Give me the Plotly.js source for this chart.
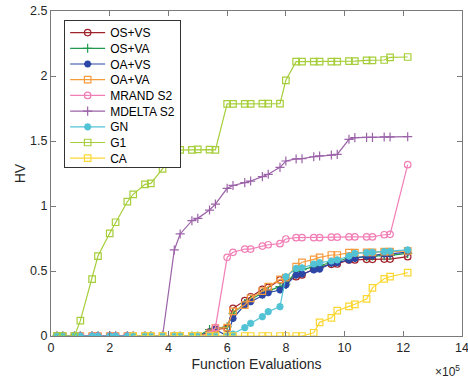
<!DOCTYPE html>
<html>
<head>
<meta charset="utf-8">
<script src="https://cdn.plot.ly/plotly-3.0.1.min.js"></script>
<style>html,body{margin:0;padding:0;background:#fff;}#chart{width:468px;height:385px;}</style>
</head>
<body>
<div id="chart"></div>
<script>
// Function evaluations (x 1e5)
var X = [0.2,0.4,0.8,1.0,1.4,1.6,2.0,2.2,2.6,2.8,3.2,3.4,3.8,4.2,4.4,4.8,5.0,5.4,5.6,6.0,6.2,6.6,6.8,7.2,7.4,7.8,8.0,8.35,8.55,8.95,9.15,9.55,9.75,10.15,10.35,10.75,10.95,11.35,11.55,12.15];
var CA_X = [2.8,3.2,3.4,3.8,4.2,4.4,4.8,5.0,5.4,5.6,6.0,6.2,6.6,6.8,7.2,7.4,7.8,8.0,8.35,8.55,8.95,9.15,9.55,9.75,10.15,10.35,10.75,10.95,11.35,11.55,12.15];

var names = ["OS+VS","OS+VA","OA+VS","OA+VA","MRAND S2","MDELTA S2","GN","G1","CA"];

var OS_VS = [0,0,0,0,0,0,0,0,0,0,0,0,0,0,0,0,0,0.03,0.05,0.06,0.213,0.272,0.302,0.359,0.374,0.431,0.425,0.456,0.47,0.515,0.53,0.551,0.554,0.585,0.585,0.59,0.59,0.592,0.592,0.61];
var OS_VA = [0,0,0,0,0,0,0,0,0,0,0,0,0,0,0,0,0,0.05,0.06,0.07,0.175,0.25,0.28,0.33,0.345,0.38,0.40,0.495,0.51,0.53,0.54,0.565,0.575,0.60,0.605,0.61,0.615,0.618,0.62,0.635];
var OA_VS = [0,0,0,0,0,0,0,0,0,0,0,0,0,0,0,0,0,0.03,0.05,0.0,0.136,0.24,0.264,0.315,0.333,0.354,0.392,0.469,0.477,0.508,0.515,0.56,0.565,0.585,0.597,0.615,0.618,0.631,0.631,0.645];
var OA_VA = [0,0,0,0,0,0,0,0,0,0,0,0,0,0,0,0,0,0.02,0.06,0.065,0.19,0.238,0.29,0.345,0.38,0.436,0.45,0.533,0.567,0.59,0.605,0.623,0.623,0.641,0.641,0.644,0.644,0.649,0.649,0.655];
var MRAND = [0,0,0,0,0,0,0,0,0,0,0,0,0,0,0,0,0,0.01,0.064,0.605,0.644,0.669,0.669,0.692,0.702,0.71,0.746,0.756,0.756,0.756,0.756,0.76,0.76,0.762,0.762,0.762,0.762,0.779,0.782,1.318];
var MDELTA = [0,0,0,0,0,0,0,0,0,0,0,0,0,0.662,0.785,0.887,0.905,0.969,1.015,1.136,1.158,1.18,1.192,1.226,1.244,1.297,1.346,1.362,1.364,1.379,1.385,1.392,1.397,1.513,1.526,1.528,1.528,1.531,1.531,1.533];
var GN = [0,0,0,0,0,0,0,0,0,0,0,0,0,0,0,0,0,0,0,0,0.015,0.065,0.097,0.149,0.187,0.226,0.456,0.52,0.525,0.554,0.564,0.577,0.585,0.615,0.636,0.641,0.644,0.649,0.652,0.662];
var G1 = [0,0,0,0.118,0.438,0.615,0.79,0.875,1.033,1.09,1.167,1.174,1.285,1.43,1.431,1.431,1.436,1.433,1.431,1.785,1.785,1.785,1.785,1.787,1.787,1.787,1.967,2.11,2.11,2.11,2.11,2.11,2.11,2.115,2.115,2.12,2.12,2.123,2.144,2.146];
var CA = [0,0,0,0,0,0,0,0,0,0,0,0,0,0,0,0,0,0,0,0,0.025,0.105,0.14,0.195,0.228,0.244,0.285,0.37,0.44,0.456,0.487];

var xTicks = [0,2,4,6,8,10,12,14];
var yTicks = [0,0.5,1,1.5,2,2.5];
var yTickText = ["0","0.5","1","1.5","2","2.5"];

var colors = ["#A0222A","#1F9A4E","#2A46A6","#F79A3C","#F27EB6","#9B62A8","#52C3D5","#A6CE3A","#FCD733"];
var symbols = ["circle-open","cross-thin-open","asterisk-open","square-open","circle-open","cross-thin-open","asterisk-open","square-open","square-open"];
var ys = [OS_VS, OS_VA, OA_VS, OA_VA, MRAND, MDELTA, GN, G1, CA];
var xs = [X, X, X, X, X, X, X, X, CA_X];

var traces = ys.map(function(y, i){
  var ast = symbols[i].indexOf("asterisk")>=0;
  return {
    x: xs[i], y: y, name: names[i], type: "scatter", mode: "lines+markers",
    line: {color: colors[i], width: 1.2},
    marker: {symbol: symbols[i], size: ast ? 6 : 6.5, color: colors[i],
             line: {color: colors[i], width: ast ? 2.2 : 1.2}}
  };
});

var FONT = "Liberation Sans, Arial, sans-serif";
var axisCommon = {
  showline: true, linecolor: "#7a7a7a", linewidth: 1, mirror: "ticks",
  ticks: "inside", ticklen: 5, tickcolor: "#7a7a7a", tickwidth: 1,
  showgrid: false, zeroline: false, ticklabeloverflow: "allow",
  tickfont: {family: FONT, size: 12.5, color: "#262626"}
};

var layout = {
  width: 468, height: 385,
  margin: {l: 51, r: 6, t: 11, b: 49},
  paper_bgcolor: "#fff", plot_bgcolor: "#fff",
  showlegend: true,
  xaxis: Object.assign({}, axisCommon, {
    range: [0, 14], tickvals: xTicks, ticktext: xTicks.map(String),
    title: {text: "Function Evaluations", font: {family: FONT, size: 14, color: "#262626"}, standoff: 5}
  }),
  yaxis: Object.assign({}, axisCommon, {
    range: [0, 2.5], tickvals: yTicks, ticktext: yTickText,
    title: {text: "HV", font: {family: FONT, size: 14, color: "#262626"}, standoff: 1}
  }),
  legend: {
    x: 0.032, y: 0.972, xanchor: "left", yanchor: "top",
    bgcolor: "#fff", bordercolor: "#333", borderwidth: 1,
    font: {family: FONT, size: 12, color: "#000"},
    tracegroupgap: 0, itemwidth: 35
  },
  annotations: [{
    xref: "paper", yref: "paper", x: 1.0, y: -0.109, xanchor: "right", yanchor: "middle",
    text: "×10<sup>5</sup>", showarrow: false,
    font: {family: FONT, size: 12, color: "#262626"}
  }]
};

Plotly.newPlot("chart", traces, layout, {displayModeBar: false, staticPlot: true}).then(function(gd){
  // tighten legend row spacing to match the reference
  var leg = gd.querySelector(".legend");
  if (!leg) return;
  var items = leg.querySelectorAll(".traces");
  var step = 15.7, y0 = null, lastNew = 0;
  items.forEach(function(el, i){
    var t = el.getAttribute("transform") || "";
    var m = /translate\(\s*([-\d.e]+)[ ,]+([-\d.e]+)\s*\)/.exec(t);
    if (!m) return;
    var x = parseFloat(m[1]), y = parseFloat(m[2]);
    if (y0 === null) { y0 = y - 3; }
    var ny = y0 + i * step;
    lastNew = ny;
    el.setAttribute("transform", "translate(" + x + "," + ny + ")");
  });
  var bg = leg.querySelector("rect.bg");
  if (bg && y0 !== null) {
    bg.setAttribute("height", lastNew + 9);
  }
});
</script>
</body>
</html>
